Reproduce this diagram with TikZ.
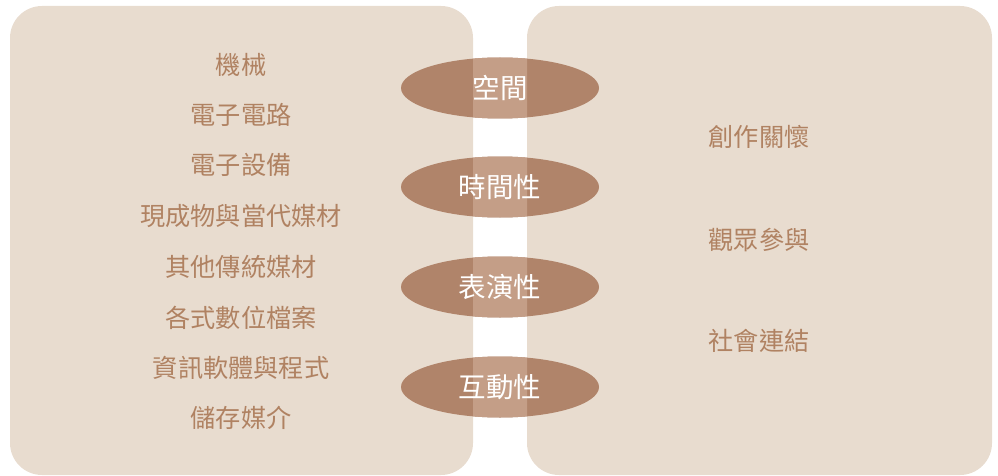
\documentclass[tikz,border=0pt]{standalone}
\usepackage{fontspec}
\newfontfamily\cjk{Noto Sans CJK TC}
\definecolor{panel}{HTML}{E8DCCF}
\definecolor{ovdark}{HTML}{B0846A}
\definecolor{ovlight}{HTML}{C49E87}
\definecolor{txtbrown}{HTML}{B08262}
\tikzset{
  panelbox/.style={fill=panel, draw=none, rounded corners=32pt},
  item/.style={font=\cjk\fontsize{25.2}{28}\selectfont, text=txtbrown, inner sep=0pt},
  ovlabel/.style={font=\cjk\fontsize{27.5}{30}\selectfont, text=white, inner sep=0pt},
}
\begin{document}
\begin{tikzpicture}[x=1pt,y=-1pt]
\useasboundingbox (0,0) rectangle (998,476);
% panels
\path[panelbox] (10,6) rectangle (473,475);
\path[panelbox] (527,6) rectangle (992,475);
% left list
\node[item] (l1) at (241,65) {機械};
\node[item] (l2) at (241,115) {電子電路};
\node[item] (l3) at (241,165) {電子設備};
\node[item] (l4) at (241,216) {現成物與當代媒材};
\node[item] (l5) at (241,267) {其他傳統媒材};
\node[item] (l6) at (241,318) {各式數位檔案};
\node[item] (l7) at (241,368) {資訊軟體與程式};
\node[item] (l8) at (241,418) {儲存媒介};
% right list
\node[item] (r1) at (759,137) {創作關懷};
\node[item] (r2) at (759,240) {觀眾參與};
\node[item] (r3) at (759,341) {社會連結};
% ovals
\foreach \n/\yy in {1/88,2/187,3/287,4/387}{
  \fill[ovdark] (500,\yy) ellipse [x radius=99, y radius=30.5];
  \begin{scope}
    \clip (473,0) rectangle (527,476);
    \fill[ovlight] (500,\yy) ellipse [x radius=99, y radius=30.5];
  \end{scope}
}
\node[ovlabel] (o1) at (500,88) {空間};
\node[ovlabel] (o2) at (500,187) {時間性};
\node[ovlabel] (o3) at (500,287) {表演性};
\node[ovlabel] (o4) at (500,387) {互動性};
\end{tikzpicture}
\end{document}
